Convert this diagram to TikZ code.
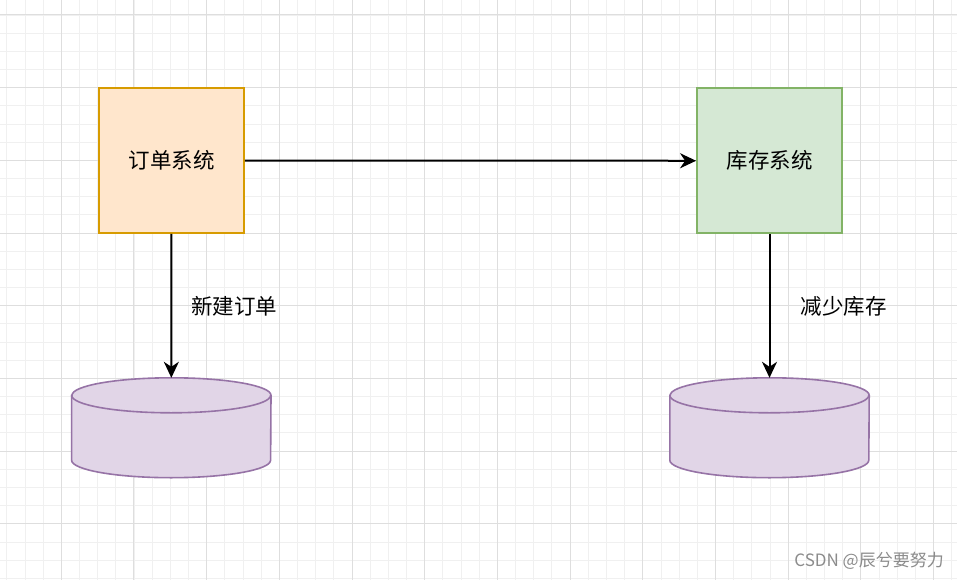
\documentclass[tikz,border=0pt]{standalone}
\usepackage{fontspec}
\setmainfont{Noto Sans CJK SC}
\usetikzlibrary{arrows.meta,calc}

\definecolor{orderfill}{HTML}{FFE6CC}
\definecolor{orderline}{HTML}{D79B00}
\definecolor{stockfill}{HTML}{D5E8D4}
\definecolor{stockline}{HTML}{82B366}
\definecolor{dbfill}{HTML}{E1D5E7}
\definecolor{dbline}{HTML}{9673A6}

\tikzset{
  minorgrid/.style={draw=black!6, line width=0.8pt},
  majorgrid/.style={draw=black!13, line width=1pt},
  sysbox/.style={rectangle, minimum size=145pt, line width=1.8pt, font=\fontsize{21.5}{26}\selectfont},
  dbbox/.style={rectangle, minimum width=199pt, minimum height=99.5pt, inner sep=0pt},
  dbshape/.style={fill=dbfill, draw=dbline, line width=1.6pt},
  flow/.style={-{Stealth[length=16pt,width=15pt,inset=5pt]}, line width=2pt},
  flowlabel/.style={font=\fontsize{21.5}{26}\selectfont, inner sep=0pt}
}

\begin{document}
\begin{tikzpicture}[x=1pt, y=-1pt]
  \useasboundingbox[fill=white] (0,0) rectangle (957,580);
  % grid
  \foreach \i in {0,...,54} {
    \draw[minorgrid] ({-11.4+18.17*\i},0) -- ++(0,580);
  }
  \foreach \i in {0,...,33} {
    \draw[minorgrid] (0,{-3.2+18.17*\i}) -- ++(957,0);
  }
  \foreach \i in {0,...,13} {
    \draw[majorgrid] ({-11.4+72.68*\i},0) -- ++(0,580);
  }
  \foreach \i in {0,...,8} {
    \draw[majorgrid] (0,{15+72.68*\i}) -- ++(957,0);
  }

  % systems
  \node[sysbox, fill=orderfill, draw=orderline] (order) at (171.5,160.5) {订单系统};
  \node[sysbox, fill=stockfill, draw=stockline] (stock) at (769.5,160.8) {库存系统};

  % databases
  \node[dbbox] (orderdb) at (171.3,427.75) {};
  \node[dbbox] (stockdb) at (769.5,427.75) {};
  \foreach \db in {orderdb,stockdb} {
    \filldraw[dbshape] ($(\db.north west)+(0,17.5)$) -- ($(\db.south west)+(0,-17.5)$)
      arc[start angle=180, end angle=360, x radius=99.5pt, y radius=17.5pt]
      -- ($(\db.north east)+(0,17.5)$)
      arc[start angle=0, end angle=180, x radius=99.5pt, y radius=17.5pt] -- cycle;
    \draw[dbshape, fill=none] ($(\db.north west)+(0,17.5)$)
      arc[start angle=180, end angle=360, x radius=99.5pt, y radius=17.5pt];
  }

  \draw[flow] (order) -- (stock);
  \draw[flow] (order) -- node[flowlabel, right=19pt] {新建订单} (orderdb);
  \draw[flow] (stock) -- node[flowlabel, right=30pt] {减少库存} (stockdb);

  \node[text=black!45, font=\fontsize{17}{20}\selectfont, anchor=east, inner sep=0pt] (mark) at (944,561) {CSDN @辰兮要努力};
\end{tikzpicture}
\end{document}
